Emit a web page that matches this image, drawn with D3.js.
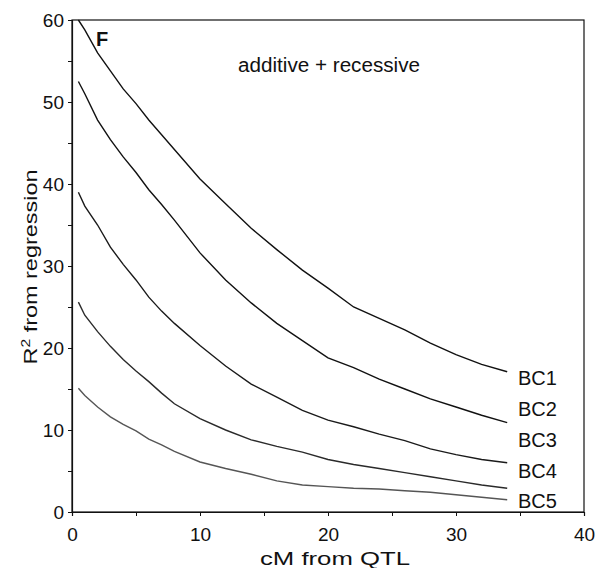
<!DOCTYPE html>
<html>
<head>
<meta charset="utf-8">
<script src="https://cdn.jsdelivr.net/npm/d3@7"></script>
<style>
  body { margin: 0; background: #fff; }
  svg { font-family: 'Liberation Sans', Arial, sans-serif; }
</style>
</head>
<body>
<div class="dataviz"></div>
<script>
const cM = [0.5, 1, 2, 3, 4, 5, 6, 7, 8, 10, 12, 14, 16, 18, 20, 22, 24, 26, 28, 30, 32, 34]

const bc1 = [60, 58.8, 56, 53.8, 51.6, 49.8, 47.8, 46, 44.2, 40.6, 37.6, 34.6, 32, 29.5, 27.3, 25.0, 23.6, 22.2, 20.6, 19.2, 18, 17.1]
const bc2 = [52.5, 51, 47.8, 45.4, 43.3, 41.4, 39.3, 37.5, 35.6, 31.6, 28.3, 25.5, 23, 20.9, 18.8, 17.6, 16.2, 15, 13.8, 12.8, 11.8, 10.9]
const bc3 = [39, 37.3, 35, 32.3, 30.2, 28.3, 26.2, 24.5, 23, 20.3, 17.8, 15.6, 14, 12.4, 11.2, 10.4, 9.5, 8.7, 7.7, 7.0, 6.4, 6.0]
const bc4 = [25.6, 24, 22, 20.2, 18.6, 17.2, 15.9, 14.5, 13.2, 11.4, 10.0, 8.8, 8.0, 7.3, 6.4, 5.8, 5.3, 4.8, 4.3, 3.8, 3.3, 2.9]
const bc5 = [15.1, 14.2, 12.8, 11.6, 10.7, 9.9, 8.9, 8.2, 7.4, 6.1, 5.3, 4.6, 3.8, 3.3, 3.1, 2.9, 2.8, 2.6, 2.4, 2.1, 1.8, 1.5]

const seriesNames = ['BC1', 'BC2', 'BC3', 'BC4', 'BC5']
const seriesValues = [bc1, bc2, bc3, bc4, bc5]
const seriesColors = ['#111', '#111', '#1a1a1a', '#2a2a2a', '#555']

const xTicks = [0, 10, 20, 30, 40]
const yTicks = [0, 10, 20, 30, 40, 50, 60]

const width = 597
const height = 568
const plotLeft = 72, plotRight = 584, plotTop = 20, plotBottom = 512

const svg = d3.select('.dataviz').append('svg')
  .attr('width', width).attr('height', height)

const xScale = d3.scaleLinear().domain([0, 40]).range([plotLeft, plotRight])
const yScale = d3.scaleLinear().domain([0, 60]).range([plotBottom, plotTop])

// frame
svg.append('rect')
  .attr('x', plotLeft).attr('y', plotTop)
  .attr('width', plotRight - plotLeft).attr('height', plotBottom - plotTop)
  .attr('fill', 'none').attr('stroke', '#111').attr('stroke-width', 1.2)

// axes
const xAxis = svg.append('g').attr('transform', `translate(0, ${plotBottom})`)
xAxis.call(d3.axisBottom(xScale).tickValues(d3.range(0, 41, 5)).tickSize(4).tickFormat(d => xTicks.includes(d) ? d : ''))
const yAxis = svg.append('g').attr('transform', `translate(${plotLeft}, 0)`)
yAxis.call(d3.axisLeft(yScale).tickValues(d3.range(0, 61, 5)).tickSize(4).tickFormat(d => yTicks.includes(d) ? d : ''))

svg.selectAll('.domain').attr('stroke', '#111').attr('stroke-width', 1.2)
svg.selectAll('.tick line').attr('stroke', '#111').attr('stroke-width', 1)
svg.selectAll('.tick text')
  .attr('font-family', "'Liberation Sans', Arial, sans-serif")
  .attr('font-size', 19).attr('fill', '#111')
xAxis.selectAll('.tick text').attr('dy', null).attr('y', 29)
yAxis.selectAll('.tick text').attr('x', -8).attr('dy', '0.36em')

// lines
const line = d3.line()
  .x((d, i) => xScale(cM[i]))
  .y(d => yScale(d))

svg.selectAll('.curve')
  .data(seriesValues)
  .enter()
  .append('path')
  .attr('class', 'curve')
  .attr('d', line)
  .attr('fill', 'none')
  .attr('stroke', (d, i) => seriesColors[i])
  .attr('stroke-width', 1.4)

// series labels
const labelY = [385, 416, 447, 478, 508]
svg.selectAll('.serieslabel')
  .data(seriesNames)
  .enter()
  .append('text')
  .attr('x', 518)
  .attr('y', (d, i) => labelY[i])
  .attr('font-size', 20)
  .attr('fill', '#111')
  .text(d => d)

// panel letter and annotation
svg.append('text').attr('x', 96).attr('y', 46)
  .attr('font-size', 20).attr('font-weight', 'bold').attr('fill', '#111').text('F')

svg.append('text').attr('x', 238).attr('y', 72)
  .attr('font-size', 20).attr('fill', '#111')
  .attr('textLength', 182).attr('lengthAdjust', 'spacingAndGlyphs')
  .text('additive + recessive')

// axis titles
svg.append('text').attr('x', 335).attr('y', 565)
  .attr('text-anchor', 'middle').attr('font-size', 18).attr('fill', '#111')
  .attr('textLength', 150).attr('lengthAdjust', 'spacingAndGlyphs')
  .text('cM from QTL')

const yTitle = svg.append('text')
  .attr('transform', 'translate(37, 267) rotate(-90)')
  .attr('text-anchor', 'middle').attr('font-size', 18).attr('fill', '#111')
  .attr('textLength', 195).attr('lengthAdjust', 'spacingAndGlyphs')
yTitle.append('tspan').text('R')
yTitle.append('tspan').attr('font-size', 12).attr('dy', -7).text('2')
yTitle.append('tspan').attr('dy', 7).text(' from regression')
</script>
</body>
</html>
